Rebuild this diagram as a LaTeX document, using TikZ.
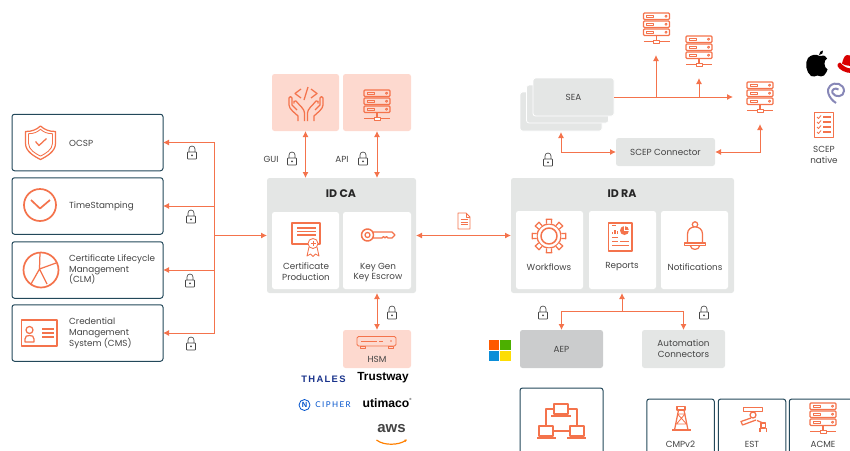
\documentclass[tikz,border=0pt]{standalone}
\usepackage{fontspec}
\setmainfont{Poppins}
\newfontfamily\logofont{Liberation Sans}
\newfontfamily\wideboldfont[LetterSpace=14]{Liberation Sans}
\newfontfamily\widefont[LetterSpace=18]{Lato}
\usetikzlibrary{arrows.meta}
\usetikzlibrary{shapes,shapes.geometric}
\definecolor{accent}{HTML}{F4734C}
\definecolor{blush}{HTML}{FDD9CF}
\definecolor{panel}{HTML}{E4E6E5}
\definecolor{aepgrey}{HTML}{CBCCCD}
\definecolor{frame}{HTML}{23485A}
\definecolor{ink}{HTML}{444444}
\tikzset{>={Latex[length=6pt,width=6pt]}}
\tikzset{
  base/.style={inner sep=0pt,outer sep=0pt,rounded corners=2.5pt,align=center,text=ink,font=\fontsize{8.8}{10.8}\selectfont},
  outlinebox/.style={base,draw=frame,line width=1pt,fill=white},
  pinkbox/.style={base,fill=blush},
  greybox/.style={base,fill=panel},
  whitebox/.style={base,fill=white},
  txt/.style={inner sep=0pt,align=center,text=ink,font=\fontsize{8.8}{10.8}\selectfont},
  ltxt/.style={inner sep=0pt,anchor=west,align=left,text=ink,font=\fontsize{8.8}{10.8}\selectfont},
  title/.style={inner sep=0pt,text=black!85,font=\fontsize{11}{13}\selectfont\bfseries},
  flow/.style={draw=accent,line width=0.95pt,<->},
  oneway/.style={draw=accent,line width=0.95pt,->},
  ico/.style={draw=accent,line width=1.25pt,line join=round},
  thin ico/.style={draw=accent,line width=0.85pt,line join=round},
  pics/padlock/.style={code={
    \draw[draw=ink,line width=0.65pt,rounded corners=0.6pt,fill=white] (-4.5,-1) rectangle (4.5,6);
    \draw[draw=ink,line width=0.65pt] (-3,-1) -- (-3,-4) arc[start angle=180,end angle=360,radius=3] -- (3,-1);
    \fill[ink] (0,2.4) circle (1);
  }},
  pics/serverrack/.style={code={
    \foreach \r in {-15.5,-7.5,0.5} {
      \draw[ico,rounded corners=1pt] (-13,\r) rectangle (13,\r+6.5);
      \draw[thin ico] (-10,\r+2.3) rectangle (-3,\r+4.2);
      \draw[thin ico] (9.5,\r+3.2) circle (1.1);
    }
    \draw[ico] (0,7) -- (0,12);
    \draw[ico] (-13,13) -- (13,13);
    \draw[thin ico,fill=white] (-3,11.5) rectangle (3,14.5);
  }}
}
\begin{document}
\begin{tikzpicture}[x=1pt,y=-1pt]
\useasboundingbox (0,0) rectangle (850,450);
\clip (0,0) rectangle (850,450);

% left column
\node[outlinebox,minimum width=151pt,minimum height=56.5pt] (ocsp) at (87.5,142.5) {};
\node[outlinebox,minimum width=151pt,minimum height=56.5pt] (stamp) at (87.5,206) {};
\node[outlinebox,minimum width=151pt,minimum height=56.5pt] (clm) at (87.5,270) {};
\node[outlinebox,minimum width=151pt,minimum height=56.5pt] (cms) at (87.5,333) {};
\node[ltxt] (ocsptxt) at (69,143) {OCSP};
\node[ltxt] (stamptxt) at (69,206) {TimeStamping};
\node[ltxt] (clmtxt) at (69,269.5) {Certificate Lifecycle\\Management\\(CLM)};
\node[ltxt] (cmstxt) at (69,333) {Credential\\Management\\System (CMS)};

% left icons
\begin{scope}[shift={(40.5,142.5)}]
  \draw[ico] (-15,-11) -- (-15,1) .. controls (-15,9) and (-6,14) .. (0,17) .. controls (6,14) and (15,9) .. (15,1) -- (15,-11) .. controls (8,-11) and (4,-13) .. (0,-16.5) .. controls (-4,-13) and (-8,-11) .. (-15,-11) -- cycle;
  \draw[thin ico,scale=0.8] (-15,-11) -- (-15,1) .. controls (-15,9) and (-6,14) .. (0,17) .. controls (6,14) and (15,9) .. (15,1) -- (15,-11) .. controls (8,-11) and (4,-13) .. (0,-16.5) .. controls (-4,-13) and (-8,-11) .. (-15,-11) -- cycle;
  \draw[ico] (-5,-1) -- (-1.5,3) -- (6,-4);
\end{scope}
\draw[ico,line width=1.7pt] (40,205) circle (16);
\draw[ico,line width=1.7pt] (31,200) -- (40,208.5) -- (50,200);
\draw[ico,line width=1.7pt] (41,270) circle (17.5);
\draw[ico] (40,252.5) -- (39.5,269) -- (56,263);
\draw[ico] (31,284) -- (39.5,269) -- (47,284);
\draw[ico,line width=1.5pt] (21.5,320) rectangle (57,346);
\draw[ico] (29.5,330) circle (3.5);
\draw[ico] (25,342) -- (25,339) .. controls (25,336) and (27,335.5) .. (29.5,335.5) .. controls (32,335.5) and (34,336) .. (34,339) -- (34,342) -- cycle;
\foreach \r in {329,333,337} {
  \draw[ico] (42,\r) -- (54,\r);
}

% left connectors
\node[greybox,minimum width=149pt,minimum height=115pt] (idca) at (341.5,235.5) {};
\coordinate (trunk) at (214,235.5);
\draw[oneway] (trunk) -- (idca.west);
\draw[oneway] (trunk) |- (ocsp.east);
\draw[oneway] (trunk) |- (stamp.east);
\draw[oneway] (trunk) |- (clm.east);
\draw[oneway] (trunk) |- (cms.east);
\pic at (192,153) {padlock};
\pic at (191,217) {padlock};
\pic at (190,281) {padlock};
\pic at (191,344) {padlock};

% ID CA
\node[title] (idcatitle) at (341,193.5) {ID CA};
\node[whitebox,minimum width=67pt,minimum height=77pt] (certbox) at (305.5,250.5) {};
\node[whitebox,minimum width=68pt,minimum height=77pt] (keybox) at (377,250.5) {};
\node[txt] (certtxt) at (306,272) {Certificate\\Production};
\node[txt] (keytxt) at (378,272.5) {Key Gen\\Key Escrow};
\draw[ico,line width=1.3pt,fill=white] (292,223) rectangle (320,244);
\foreach \r in {228,231.5,235} {
  \draw[ico,line width=1.2pt] (297,\r) -- (316,\r);
}
\draw[thin ico,fill=white] (309,247) -- (307,256) -- (310.5,254) -- (313,256.5) -- (315.5,254) -- (319,256) -- (317,247);
\draw[thin ico,fill=white] (313,243.5) circle (5);
\draw[thin ico] (313,241) -- (313,246) (310.5,243.5) -- (315.5,243.5);
\draw[ico,line width=1.5pt] (367.5,235) circle (6);
\draw[ico] (367.5,235) circle (2.5);
\draw[ico] (373,232) -- (392,232) -- (395,235) -- (392,238) -- (388,238) -- (386.5,236.5) -- (385,238) -- (383.5,236.5) -- (382,238) -- (373,238);

% top boxes
\node[pinkbox,minimum width=67pt,minimum height=57pt] (gui) at (305.5,102.5) {};
\node[pinkbox,minimum width=68pt,minimum height=57pt] (api) at (377,102.5) {};
\begin{scope}[shift={(306,109)}]
  \foreach \s in {1,-1} {
    \begin{scope}[xscale=\s]
      \draw[ico] (-8,12) -- (-8,7) .. controls (-11,4) and (-17,0) .. (-17,-4) -- (-17,-11) .. controls (-17,-13) and (-14,-13) .. (-14,-11) -- (-14,-4) -- (-9,1);
      \draw[ico] (-1.5,12) -- (-1.5,4) .. controls (-1.5,0) and (-6,-3) .. (-10,-8) .. controls (-12,-9) and (-13,-7) .. (-12,-5.5);
    \end{scope}
  }
  \draw[ico] (-5,-20) -- (-11,-15.5) -- (-5,-11);
  \draw[ico] (5,-20) -- (11,-15.5) -- (5,-11);
  \draw[ico] (2,-22) -- (-2,-9);
\end{scope}
\pic at (377,105.5) {serverrack};
\draw[flow] (gui.south) -- (gui.south |- idca.north);
\draw[flow] (api.south) -- (api.south |- idca.north);
\node[txt] (guitxt) at (271,159) {GUI};
\node[txt] (apitxt) at (342,159) {API};
\pic at (292,159) {padlock};
\pic at (363,159) {padlock};

% HSM
\node[pinkbox,minimum width=68pt,minimum height=38pt] (hsm) at (377,349) {};
\node[txt] (hsmtxt) at (377,359) {HSM};
\draw[thin ico,rounded corners=1.5pt] (357,336.5) rectangle (396,346);
\draw[thin ico] (360,348) rectangle (365,346) (388,348) rectangle (393,346);
\draw[thin ico] (361,341) -- (377,341) (379,341) -- (383,341);
\fill[accent] (391,341) circle (0.9);
\draw[flow] (hsm.north) -- (hsm.north |- idca.south);
\pic at (392,313) {padlock};
\node[inner sep=0pt,text=frame!70!blue] (thales) at (323.5,379) {\wideboldfont\fontsize{9.4}{10}\selectfont\bfseries THALES};
\node[inner sep=0pt,text=black] (trustway) at (383,378) {\logofont\fontsize{11.8}{13}\selectfont\bfseries Trustway};
\node[inner sep=0pt,text=blue!60!cyan!80!black] (ncipher) at (333,405) {\widefont\fontsize{8}{9}\selectfont CIPHER};
\draw[blue!60!cyan!80!black,line width=0.8pt] (304.5,405) circle (5.5);
\node[inner sep=0pt,text=blue!60!cyan!80!black] (nletter) at (304.5,405) {\logofont\fontsize{7.5}{9}\selectfont\bfseries N};
\node[inner sep=0pt,text=black] (utimaco) at (386,403.5) {\logofont\fontsize{12.2}{13}\selectfont\bfseries utimaco};
\node[inner sep=0pt,text=black] (registered) at (410.5,399) {\logofont\fontsize{3}{4}\selectfont\textregistered};
\node[inner sep=0pt,text=ink] (aws) at (391.5,429) {\logofont\fontsize{15}{16}\selectfont\bfseries aws};
\draw[orange,line width=1.2pt,-{Latex[length=2.5pt,width=3pt]}] (376.5,440) .. controls (384,446) and (399,445) .. (407,439.5);

% ID RA
\node[greybox,minimum width=223pt,minimum height=115pt] (idra) at (622.5,235.5) {};
\node[title] (idratitle) at (622,193.5) {ID RA};
\node[whitebox,minimum width=67pt,minimum height=78pt] (workbox) at (549.5,250) {};
\node[whitebox,minimum width=67pt,minimum height=78pt] (repbox) at (622.5,250) {};
\node[whitebox,minimum width=67pt,minimum height=78pt] (notebox) at (694.5,250) {};
\node[txt] (worktxt) at (549,267) {Workflows};
\node[txt] (reptxt) at (622,267) {Reports};
\node[txt] (notetxt) at (695,267) {Notifications};
\begin{scope}[shift={(549,236)}]
  \draw[ico] (0,0) circle (12);
  \foreach \a in {0,45,...,315} {
    \draw[ico,fill=white] (\a-11:12.5) -- (\a-9:17) -- (\a+9:17) -- (\a+11:12.5);
  }
  \draw[ico,line width=1.5pt] (0,0) circle (8);
\end{scope}
\draw[ico] (608.5,223) rectangle (632,251);
\draw[thin ico] (612,225.5) -- (616,225.5);
\draw[ico] (612.5,234) -- (612.5,232) (615,234) -- (615,229.5) (617.5,234) -- (617.5,231);
\fill[accent] (624.5,230.5) circle (4.5);
\draw[white,line width=0.6pt] (624.5,230.5) -- (624.5,226) (624.5,230.5) -- (629,230.5);
\draw[thin ico] (612,237.5) -- (618,237.5) (612,241.5) -- (618,241.5) (620,241.5) -- (629,241.5) (612,245) -- (629,245);
\draw[ico] (695,224.5) circle (2.7);
\draw[ico,fill=white] (687.5,242.5) -- (687.5,234) .. controls (687.5,224.5) and (702.5,224.5) .. (702.5,234) -- (702.5,242.5);
\draw[ico,line width=1.4pt] (684.5,245.5) -- (684.5,243) -- (705.5,243) -- (705.5,245.5) -- cycle;
\draw[ico] (690.5,246) .. controls (691,250.5) and (699,250.5) .. (699.5,246);

% CA to RA
\draw[flow] (idca.east) -- (idra.west);
\draw[thin ico] (458,213) -- (466,213) -- (470,217) -- (470,229) -- (458,229) -- cycle;
\draw[thin ico] (466,213) -- (466,217) -- (470,217);
\draw[thin ico] (460.5,219.5) -- (467.5,219.5) (460.5,222) -- (467.5,222) (460.5,224.5) -- (467.5,224.5);

% below ID RA
\node[base,fill=aepgrey,minimum width=83pt,minimum height=38pt] (aep) at (561.5,349) {AEP};
\node[greybox,minimum width=83pt,minimum height=38pt] (auto) at (683.5,349) {Automation\\Connectors};
\coordinate (raport) at (622,311);
\draw[oneway] (raport) -- (raport |- idra.south);
\draw[oneway] (raport) -| (aep.north);
\draw[oneway] (raport) -| (auto.north);
\pic at (543,313) {padlock};
\pic at (704,313) {padlock};
\fill[orange!70!red] (488.5,339.5) rectangle (499.2,350);
\fill[green!55!black!70!yellow] (500,339.5) rectangle (510.8,350);
\fill[cyan!75!blue] (488.5,350.8) rectangle (499.2,360.8);
\fill[yellow!80!orange] (500,350.8) rectangle (510.8,360.8);

% bottom row
\node[outlinebox,minimum width=83pt,minimum height=80pt] (netbox) at (561.5,428) {};
\draw[ico] (554,404) rectangle (568,414);
\draw[ico] (539,426) rectangle (553,436);
\draw[ico] (570,426) rectangle (584,436);
\draw[ico,line width=1.6pt] (551,416) -- (571,416) (537,438) -- (556,438) (567,438) -- (586,438);
\draw[ico] (554,409) -- (546,409) -- (546,426) (568,409) -- (577,409) -- (577,426) (553,431) -- (570,431);
\node[outlinebox,minimum width=67.5pt,minimum height=80pt] (cmpbox) at (680.5,439) {};
\node[outlinebox,minimum width=67.5pt,minimum height=80pt] (estbox) at (752,439) {};
\node[outlinebox,minimum width=67.5pt,minimum height=80pt] (acmebox) at (823,439) {};
\node[txt] (cmptxt) at (680.5,444.5) {CMPv2};
\node[txt] (esttxt) at (752,444.5) {EST};
\node[txt] (acmetxt) at (823,444.5) {ACME};
\draw[ico] (672,430) -- (691,430);
\draw[ico] (674.5,430) -- (678.5,410) -- (684,410) -- (688,430);
\draw[ico] (677,406.5) rectangle (685,410);
\draw[thin ico] (678,414) -- (685,414) -- (676.5,424) -- (686.5,424) -- (677.5,414);
\draw[ico] (743.5,407.5) rectangle (762.5,411.5);
\draw[ico] (753,415) circle (3);
\draw[ico] (751,418) -- (741,421.5) -- (742.5,425) -- (756,420);
\draw[ico] (757,420.5) -- (763,423);
\draw[ico] (761,423) rectangle (765.5,428);
\draw[ico] (760,432) -- (760,428) (766.5,432) -- (766.5,428);
\pic at (823,418.5) {serverrack};

% SEA group
\node[greybox,draw=white,line width=0.8pt,minimum width=82pt,minimum height=39pt] (seaback) at (561,111.5) {};
\node[greybox,draw=white,line width=0.8pt,minimum width=82pt,minimum height=38pt] (seamid) at (567.5,104) {};
\node[greybox,draw=white,line width=0.8pt,minimum width=81pt,minimum height=38pt] (sea) at (573.5,97) {SEA};
\pic at (656.5,28.5) {serverrack};
\pic at (699,51.5) {serverrack};
\pic at (760,97.5) {serverrack};
\coordinate (seaend) at (733,97);
\coordinate (tipone) at (656,55);
\coordinate (tiptwo) at (699,78);
\draw[oneway] (sea.east) -- (seaend);
\draw[oneway] (tipone |- sea.east) -- (tipone);
\draw[oneway] (tiptwo |- sea.east) -- (tiptwo);
\node[greybox,minimum width=99pt,minimum height=28pt] (scep) at (665.5,152) {SCEP Connector};
\coordinate (seafoot) at (561,132);
\coordinate (rackfoot) at (760,124);
\draw[flow] (seafoot) |- (scep.west);
\draw[flow] (rackfoot) |- (scep.east);
\pic at (548,160) {padlock};

% right logos
\fill[black] (820,56) .. controls (816,54) and (811,54.5) .. (808,58) .. controls (804.5,63) and (806,72) .. (811,76) .. controls (813,77.5) and (815,76) .. (817.5,75.5) .. controls (820,76) and (822,77.5) .. (824,75.5) .. controls (826,73.5) and (827,71) .. (827.5,69.5) .. controls (823.5,67) and (823.5,60.5) .. (827,58.5) .. controls (825,55) and (822.5,55) .. (820,56) -- cycle;
\fill[black] (819,55) .. controls (819,52) and (821,51) .. (823,50.5) .. controls (823.5,53) and (822,55) .. (819,55) -- cycle;
\fill[red!85!black] (842,63.5) .. controls (843,60) and (844,55.5) .. (847,55) .. controls (849,55) and (850,56) .. (851,55.5) -- (851,66) .. controls (848,66) and (844,65) .. (842,63.5) -- cycle;
\fill[red!85!black] (840,62.5) .. controls (838,63) and (837,64.5) .. (837.5,66) .. controls (839,70) and (846,73) .. (851,73) -- (851,68.5) .. controls (847,68.5) and (843,66) .. (840,62.5) -- cycle;
\draw[blue!25!gray!75!white,line width=2pt] (836,103) .. controls (828,98) and (826,89) .. (830,86) .. controls (835,81) and (844,84) .. (844,91) .. controls (844,97) and (835,98) .. (832.5,93) .. controls (831,90) and (835,87) .. (838.5,89.5);
\draw[ico,line width=1.6pt] (814.5,112.5) rectangle (833.5,137.5);
\foreach \r in {117,122,127,132} {
  \draw[thin ico] (817,\r) -- (818.5,\r+1.5) -- (821,\r-1.5);
  \draw[thin ico,line width=1.1pt] (823,\r) -- (831,\r);
}
\node[txt] (nativetxt) at (824,155) {SCEP\\native};
\end{tikzpicture}
\end{document}
